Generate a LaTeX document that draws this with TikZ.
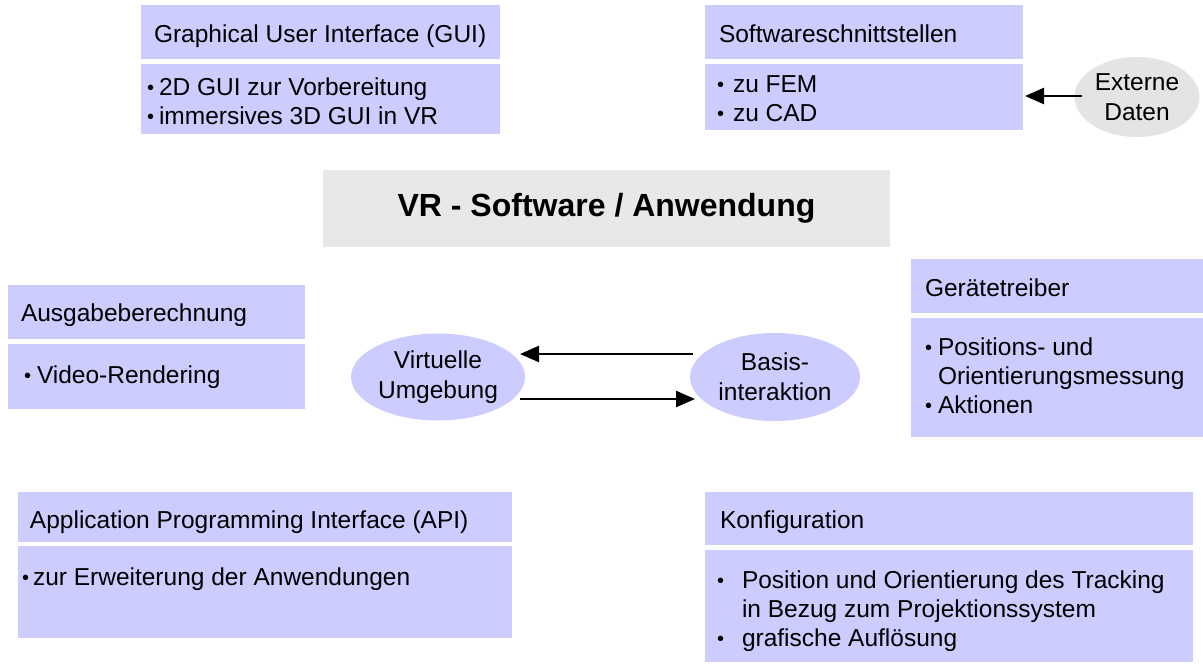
\documentclass[tikz,border=0pt]{standalone}
\usepackage{fontspec}
\setmainfont{Liberation Sans}
\usetikzlibrary{shapes.geometric,arrows.meta}
\definecolor{lav}{HTML}{CCCCFF}
\definecolor{titlegray}{HTML}{E8E8E8}
\definecolor{extgray}{HTML}{E4E4E4}
\newcommand{\bul}[2]{\makebox[#1][l]{\raisebox{1pt}{\fontsize{20}{29}\selectfont •}}#2}
\newcommand{\cont}[2]{\hspace*{#1}#2}
\tikzset{
  hbox/.style={fill=lav, inner sep=0pt, outer sep=0pt, anchor=north west},
  tx/.style={inner sep=0pt, outer sep=0pt, anchor=base west, align=left,
    font=\fontsize{24.5}{29}\selectfont},
  ell/.style={ellipse, fill=lav, inner sep=0pt, outer sep=0pt, align=center,
    font=\fontsize{24.5}{30}\selectfont},
  arr/.style={-{Triangle[length=19pt,width=16pt]}, line width=2.3pt}
}
\begin{document}
\begin{tikzpicture}[x=1pt,y=-1pt]
\useasboundingbox (0,0) rectangle (1203,664);
% GUI
\node[hbox, minimum width=359pt, minimum height=54pt] (guih) at (141,5) {};
\node[hbox, minimum width=359pt, minimum height=70pt] (guib) at (141,64) {};
\node[tx] (guiht) at (154,42) {Graphical User Interface (GUI)};
\node[tx] (guibt) at (147,124) {\bul{12pt}{2D GUI zur Vorbereitung}\\\bul{12pt}{immersives 3D GUI in VR}};
% Softwareschnittstellen
\node[hbox, minimum width=318pt, minimum height=54pt] (swh) at (705,5) {};
\node[hbox, minimum width=318pt, minimum height=66pt] (swb) at (705,64) {};
\node[tx] (swht) at (719,42) {Softwareschnittstellen};
\node[tx] (swbt) at (717,121) {\bul{16pt}{zu FEM}\\\bul{16pt}{zu CAD}};
% Externe Daten
\node[ell, fill=extgray, minimum width=125pt, minimum height=80pt] (ext) at (1137,97) {Externe\\Daten};
\draw[arr] ([xshift=7pt,yshift=1pt]ext.west) -- ([xshift=2pt,yshift=1pt]swb.east);
% Title
\node[fill=titlegray, inner sep=0pt, minimum width=567pt, minimum height=77pt,
  font=\fontsize{32}{36}\selectfont\bfseries] (title) at (606.5,208.5) {VR - Software / Anwendung};
% Ausgabeberechnung
\node[hbox, minimum width=297pt, minimum height=54pt] (ausgh) at (8,285) {};
\node[hbox, minimum width=297pt, minimum height=65pt] (ausgb) at (8,344) {};
\node[tx] (ausght) at (21,321) {Ausgabeberechnung};
\node[tx] (ausgbt) at (24,383) {\bul{13pt}{Video-Rendering}};
% Ellipses
\node[ell, minimum width=174pt, minimum height=87pt] (virt) at (438,377) {Virtuelle\\Umgebung};
\node[ell, minimum width=170pt, minimum height=88pt] (basis) at (775,377) {Basis-\\interaktion};
\draw[arr] ([xshift=3pt,yshift=23pt]basis.west) -- ([xshift=-5pt,yshift=23pt]virt.east);
\draw[arr] ([xshift=-5pt,yshift=-22pt]virt.east) -- ([xshift=5pt,yshift=-22pt]basis.west);
% Geraetetreiber
\node[hbox, minimum width=292pt, minimum height=54pt] (gerh) at (911,259) {};
\node[hbox, minimum width=292pt, minimum height=119pt] (gerb) at (911,318) {};
\node[tx] (gerht) at (925,296) {Gerätetreiber};
\node[tx] (gerbt) at (925,413) {\bul{13pt}{Positions- und}\\\cont{13pt}{Orientierungsmessung}\\\bul{13pt}{Aktionen}};
% API
\node[hbox, minimum width=494pt, minimum height=50pt] (apih) at (18,492) {};
\node[hbox, minimum width=494pt, minimum height=92pt] (apib) at (18,546) {};
\node[tx] (apiht) at (30,528) {Application Programming Interface (API)};
\node[tx] (apibt) at (22,585) {\bul{11pt}{zur Erweiterung der Anwendungen}};
% Konfiguration
\node[hbox, minimum width=488pt, minimum height=53pt] (konh) at (705,492) {};
\node[hbox, minimum width=488pt, minimum height=112pt] (konb) at (705,550) {};
\node[tx] (konht) at (720,528) {Konfiguration};
\node[tx] (konbt) at (717,646) {\bul{25pt}{Position und Orientierung des Tracking}\\\cont{25pt}{in Bezug zum Projektionssystem}\\\bul{25pt}{grafische Auflösung}};
\end{tikzpicture}
\end{document}
